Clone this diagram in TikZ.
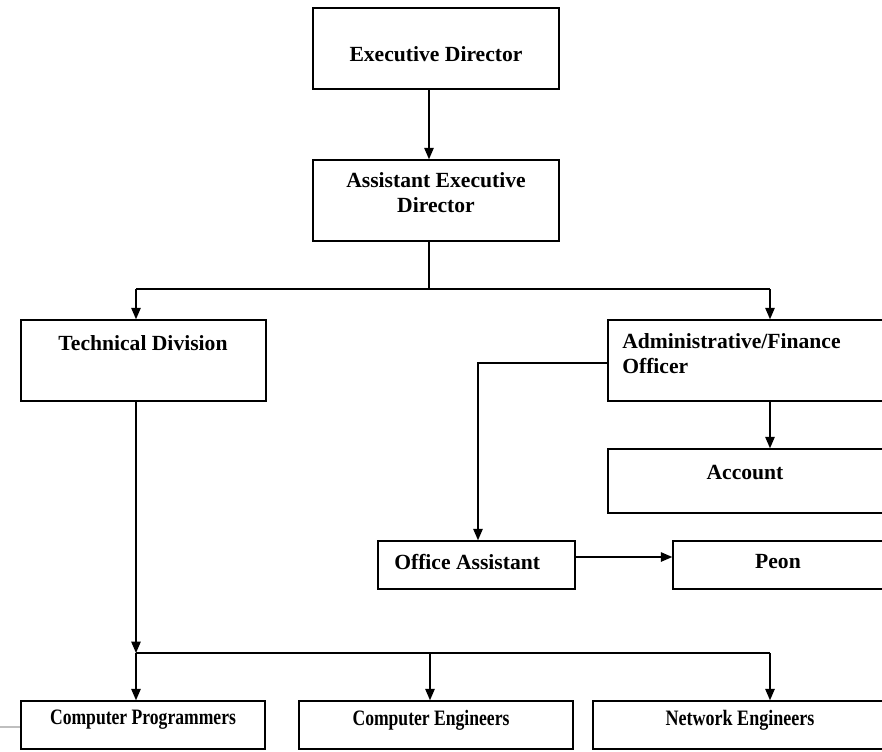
\documentclass[tikz,border=0pt]{standalone}
\usepackage{fontspec}
\setmainfont{Liberation Serif}
\usetikzlibrary{arrows.meta,fit}
\begin{document}
\begin{tikzpicture}[x=0.75pt,y=-0.75pt,
  box/.style={draw,line width=1.1pt,rectangle,inner sep=0pt},
  lbl/.style={font=\fontsize{16.2}{18.75}\selectfont\bfseries,inner sep=0pt},
  narrow/.style={font=\fontsize{16.5}{18}\selectfont\bfseries,inner sep=0pt},
  wire/.style={line width=1.1pt},
  arr/.style={wire,-{Triangle[length=8.5pt,width=7pt]}}]
\useasboundingbox (0,0) rectangle (882,751);
\clip (0,0) rectangle (882,751);

% boxes
\node[box,fit={(313,8) (559,89)}] (ed) {};
\node[box,fit={(313,160) (559,241)}] (aed) {};
\node[box,fit={(21,320) (266,401)}] (td) {};
\node[box,fit={(608,320) (900,401)}] (af) {};
\node[box,fit={(608,449) (900,513)}] (acc) {};
\node[box,fit={(378,541) (575,589)}] (oa) {};
\node[box,fit={(673,541) (900,589)}] (peon) {};
\node[box,fit={(21,701) (265,749)}] (cp) {};
\node[box,fit={(299,701) (573,749)}] (ce) {};
\node[box,fit={(593,701) (900,749)}] (ne) {};

% labels
\node[lbl] (ed-t) at (436,54) {Executive Director};
\node[lbl,align=center] (aed-t) at (436,193) {Assistant Executive\\Director};
\node[lbl] (td-t) at (143,343) {Technical Division};
\node[lbl,align=left,anchor=north west] (af-t) at (622,333) {Administrative/Finance\\Officer};
\node[lbl] (acc-t) at (745,472) {Account};
\node[lbl,anchor=west] (oa-t) at (394,562) {Office Assistant};
\node[lbl] (peon-t) at (778,562) {Peon};
\node[narrow] (cp-t) at (143,720) {\scalebox{0.8}[1]{Computer Programmers}};
\node[narrow] (ce-t) at (431,720) {\scalebox{0.8}[1]{Computer Engineers}};
\node[narrow] (ne-t) at (740,720) {\scalebox{0.82}[1]{Network Engineers}};

% junction points
\coordinate (sp) at (429,289);
\coordinate (bl) at (136,289);
\coordinate (br) at (770,289);
\coordinate (jn) at (136,653);
\coordinate (jm) at (430,653);
\coordinate (jr) at (770,653);
\coordinate (oc) at (478,363);
\coordinate (pk) at (600,557);
\coordinate (gl) at (0,727);

% connectors
\draw[arr] (ed.south -| sp) -- (aed.north -| sp);
\draw[wire] (aed.south -| sp) -- (sp);
\draw[wire] (bl) -- (br);
\draw[arr] (bl) -- (bl |- td.north);
\draw[arr] (br) -- (br |- af.north);
\draw[arr] (af.south -| br) -- (acc.north -| br);
\draw[arr] (af.west |- oc) -- (oc) -- (oc |- oa.north);
\draw[arr] (oa.east |- pk) -- (peon.west |- pk);
\draw[arr] (td.south -| jn) -- (jn);
\draw[wire] (jn) -- (jr);
\draw[arr] (jn) -- (jn |- cp.north);
\draw[arr] (jm) -- (jm |- ce.north);
\draw[arr] (jr) -- (jr |- ne.north);
\draw[gray!50,line width=0.8pt] (gl) -- (cp.west |- gl);
\end{tikzpicture}
\end{document}
